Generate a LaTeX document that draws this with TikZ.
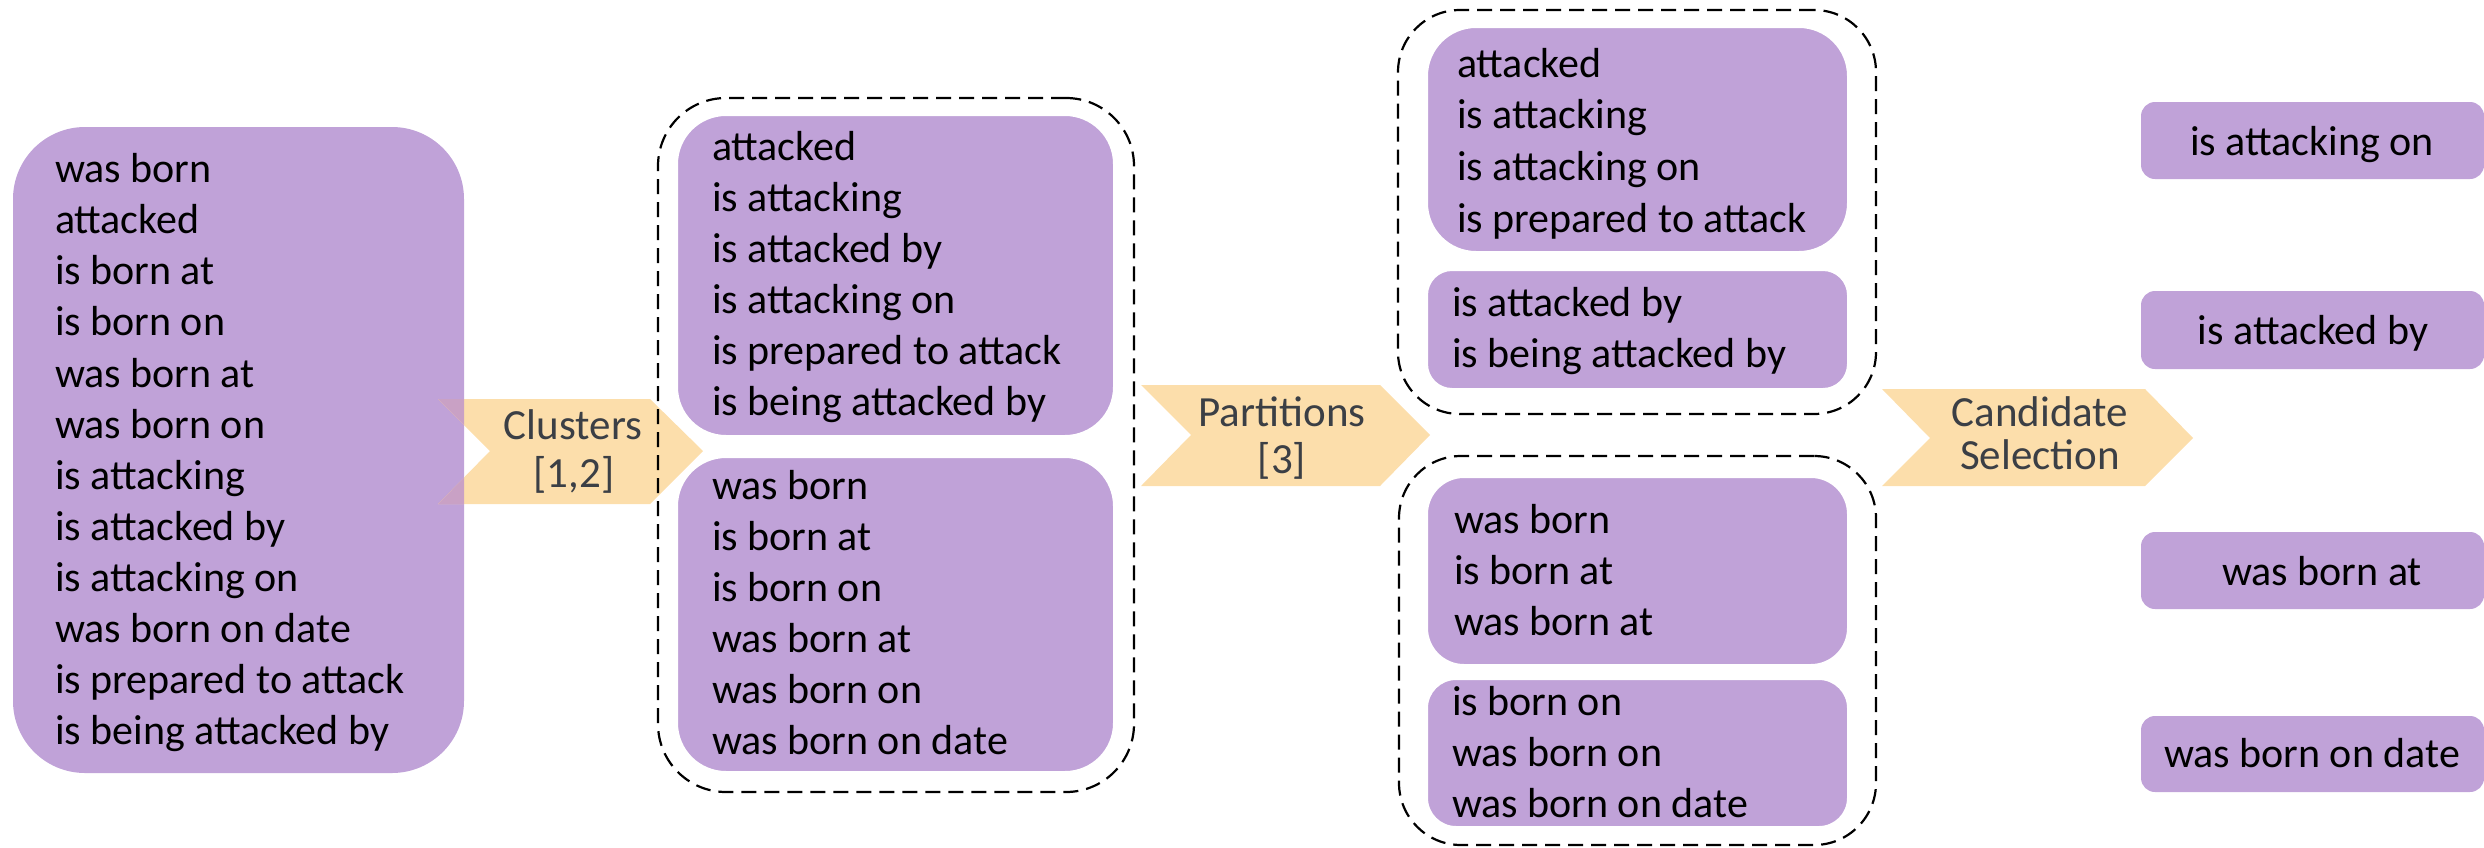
\documentclass[tikz,border=0pt]{standalone}
\usepackage{fontspec}
\setmainfont{Carlito}
\definecolor{boxpurple}{HTML}{C0A2D8}
\definecolor{arrowfill}{HTML}{FCDEAB}
\definecolor{overlapc}{HTML}{C9A1C5}
\definecolor{arrowtext}{HTML}{3B3F45}
\begin{document}
\begin{tikzpicture}[x=1pt,y=-1pt,
  pbox/.style={rectangle, fill=boxpurple, inner sep=0pt, outer sep=0pt},
  pboxw/.style={pbox, draw=white, line width=4pt},
  grp/.style={rectangle, draw=black, line width=2.2pt, dash pattern=on 15pt off 8pt, inner sep=0pt, fill=none},
  txt/.style={inner sep=0pt, outer sep=0pt, anchor=base west, text=black, font=\fontsize{42}{50}\selectfont},
  ctxt/.style={txt, anchor=base},
  atxt/.style={inner sep=0pt, outer sep=0pt, anchor=base, text=arrowtext, font=\fontsize{43}{50}\selectfont},
  chev/.style={fill=arrowfill}
]
\useasboundingbox (0,0) rectangle (2484,847);

% ---------- input box ----------
\node[pbox, rounded corners=72pt, minimum width=451pt, minimum height=646pt] (big) at (238.5,450) {};
\foreach \t [count=\i from 0] in {was born, attacked, is born at, is born on, was born at, was born on, is attacking, is attacked by, is attacking on, was born on date, is prepared to attack, is being attacked by}
  \node[txt] (big-\i) at (55,{182.6+51.1*\i}) {\t};

% ---------- chevron 1 ----------
\path[chev] (438,399) -- (650,399) -- (703,451) -- (650,504) -- (438,504) -- (490,451) -- cycle;
\begin{scope}
  \clip[rounded corners=72pt] (13,127) rectangle (464,773);
  \fill[overlapc] (438,399) -- (650,399) -- (703,451) -- (650,504) -- (438,504) -- (490,451) -- cycle;
\end{scope}
\node[atxt] (a1-1) at (573,439) {Clusters};
\node[atxt] (a1-2) at (574,487) {[1,2]};

% ---------- clusters ----------
\node[grp, rounded corners=68pt, minimum width=476pt, minimum height=694pt] (c1) at (896,445) {};
\node[pboxw, rounded corners=50pt, minimum width=439pt, minimum height=323pt] (c1a) at (895.5,275.5) {};
\node[pboxw, rounded corners=50pt, minimum width=439pt, minimum height=317pt] (c1b) at (895.5,614.5) {};
\foreach \t [count=\i from 0] in {attacked, is attacking, is attacked by, is attacking on, is prepared to attack, is being attacked by}
  \node[txt] (c1a-\i) at (712,{160+51.1*\i}) {\t};
\foreach \t [count=\i from 0] in {was born, is born at, is born on, was born at, was born on, was born on date}
  \node[txt] (c1b-\i) at (712,{499+51.1*\i}) {\t};

% ---------- chevron 2 ----------
\path[chev] (1141,385) -- (1380,385) -- (1430,435) -- (1380,486) -- (1141,486) -- (1191,435) -- cycle;
\node[atxt] (a2-1) at (1282,426) {Partitions};
\node[atxt] (a2-2) at (1282,473) {[3]};

% ---------- partitions ----------
\node[grp, rounded corners=62pt, minimum width=478pt, minimum height=404pt] (p1) at (1637,212) {};
\node[pboxw, rounded corners=50pt, minimum width=423pt, minimum height=227pt] (p1a) at (1637.5,139.5) {};
\node[pboxw, rounded corners=26pt, minimum width=423pt, minimum height=121pt] (p1b) at (1637.5,329.5) {};
\foreach \t [count=\i from 0] in {attacked, is attacking, is attacking on, is prepared to attack}
  \node[txt] (p1a-\i) at (1457,{77+51.7*\i}) {\t};
\foreach \t [count=\i from 0] in {is attacked by, is being attacked by}
  \node[txt] (p1b-\i) at (1452,{316+51*\i}) {\t};

\node[grp, rounded corners=62pt, minimum width=477pt, minimum height=389pt] (p2) at (1637.5,650.5) {};
\node[pboxw, rounded corners=38pt, minimum width=423pt, minimum height=190pt] (p2a) at (1637.5,571) {};
\node[pboxw, rounded corners=30pt, minimum width=423pt, minimum height=150pt] (p2b) at (1637.5,753) {};
\foreach \t [count=\i from 0] in {was born, is born at, was born at}
  \node[txt] (p2a-\i) at (1454,{533+51*\i}) {\t};
\foreach \t [count=\i from 0] in {is born on, was born on, was born on date}
  \node[txt] (p2b-\i) at (1452,{715+51*\i}) {\t};

% ---------- chevron 3 ----------
\path[chev] (1882,389) -- (2145,389) -- (2193,438) -- (2145,486) -- (1882,486) -- (1930,438) -- cycle;
\node[atxt] (a3-1) at (2040,426) {Candidate};
\node[atxt] (a3-2) at (2040,469) {Selection};

% ---------- selected candidates ----------
\node[pbox, rounded corners=14pt, minimum width=343pt, minimum height=77pt] (r1) at (2312.5,140.5) {};
\node[pbox, rounded corners=14pt, minimum width=343pt, minimum height=78pt] (r2) at (2312.5,330) {};
\node[pbox, rounded corners=14pt, minimum width=343pt, minimum height=77pt] (r3) at (2312.5,570.5) {};
\node[pbox, rounded corners=14pt, minimum width=343pt, minimum height=76pt] (r4) at (2312.5,754) {};
\node[ctxt] (r1-t) at (2312,155) {is attacking on};
\node[ctxt] (r2-t) at (2313,344) {is attacked by};
\node[ctxt] (r3-t) at (2322,585) {was born at};
\node[ctxt] (r4-t) at (2312,767) {was born on date};
\end{tikzpicture}
\end{document}
